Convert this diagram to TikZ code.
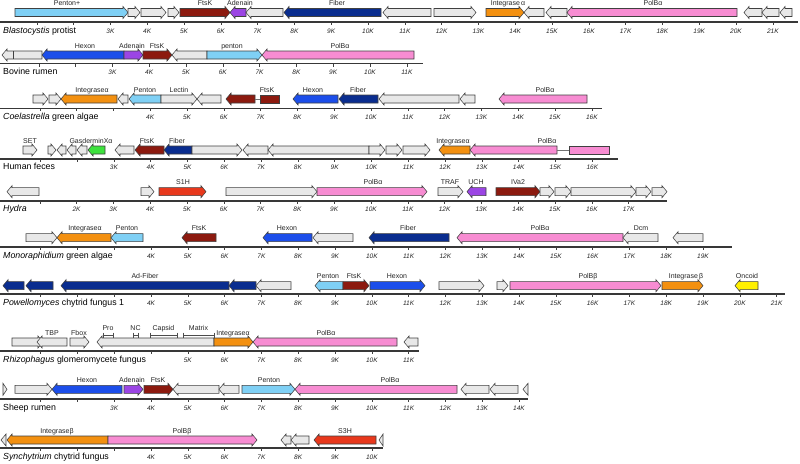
\documentclass[tikz,border=0pt]{standalone}
\usepackage{fontspec}
\setmainfont{Liberation Sans}
\definecolor{cGray}{HTML}{E8E8E8}
\definecolor{cPen}{HTML}{7FD0F5}
\definecolor{cFts}{HTML}{8C1A0F}
\definecolor{cAde}{HTML}{9B45E4}
\definecolor{cFib}{HTML}{0A2D8F}
\definecolor{cHex}{HTML}{1C4EEA}
\definecolor{cInt}{HTML}{F39010}
\definecolor{cPol}{HTML}{F78CD2}
\definecolor{cGas}{HTML}{3DE23D}
\definecolor{cRed}{HTML}{E8381C}
\definecolor{cYel}{HTML}{FFF000}
\tikzset{
 gene/.style={draw=black!75, line width=0.55pt, line join=miter},
 glabel/.style={font=\fontsize{7}{8}\selectfont, anchor=base, inner sep=0pt, text=black!85},
 ticklab/.style={font=\fontsize{6.5}{7}\selectfont\itshape, anchor=mid, inner sep=0pt, text=black!85},
 splab/.style={font=\fontsize{8.8}{10}\selectfont, anchor=mid west, inner sep=0pt},
 axisline/.style={draw=black!78, line width=1.4pt},
 tickmark/.style={draw=black!75, line width=0.6pt},
 joinline/.style={draw=black!55, line width=0.8pt},
 bracket/.style={draw=black!70, line width=0.5pt}
}
\newcommand{\RA}[4]{\pgfmathsetmacro{\hx}{max(#1,#2-5)}\draw[gene,fill=#4] (#1,#3-4) -- (\hx,#3-4) -- (\hx,#3-6) -- (#2,#3) -- (\hx,#3+6) -- (\hx,#3+4) -- (#1,#3+4) -- cycle;}
\newcommand{\LA}[4]{\pgfmathsetmacro{\hx}{min(#2,#1+5)}\draw[gene,fill=#4] (#2,#3-4) -- (\hx,#3-4) -- (\hx,#3-6) -- (#1,#3) -- (\hx,#3+6) -- (\hx,#3+4) -- (#2,#3+4) -- cycle;}
\newcommand{\BX}[4]{\draw[gene,fill=#4] (#1,#3-4) rectangle (#2,#3+4);}
\newcommand{\GL}[3]{\node[glabel] at (#1,#2-7) {#3};}
\newcommand{\AX}[6]{%
 \draw[axisline] (0,#2) -- (#3,#2);
 \foreach \k in {1,...,#4}{\draw[tickmark] ({#1+36.8*\k},#2) -- ++(0,3);}
 \foreach \k in {#5,...,#4}{\node[ticklab] at ({#1+36.8*\k},#6) {\k K};}
}
\newcommand{\BR}[4]{\draw[bracket] (#1,#3) -- (#2,#3) (#1,#3-2.5) -- (#1,#3+2.5) (#2,#3-2.5) -- (#2,#3+2.5); \node[glabel] at ({(#1+#2)/2},#3-5) {#4};}
\begin{document}
\begin{tikzpicture}[x=1pt,y=-1pt]
\useasboundingbox[fill=white] (0,0) rectangle (800,463);
% ---------- Row 1: Blastocystis ----------
\AX{0}{22}{798}{21}{3}{30.5}
\node[splab] at (3,30.5) {\textit{Blastocystis} protist};
\RA{15}{128}{12.5}{cPen}
\RA{128}{140}{12.5}{cGray}
\RA{141}{166}{12.5}{cGray}
\RA{168}{179}{12.5}{cGray}
\RA{180}{230}{12.5}{cFts}
\LA{230}{246}{12.5}{cAde}
\LA{246}{283}{12.5}{cGray}
\LA{284}{381}{12.5}{cFib}
\LA{383}{431}{12.5}{cGray}
\RA{434}{476}{12.5}{cGray}
\RA{486}{524}{12.5}{cInt}
\LA{524}{544}{12.5}{cGray}
\LA{546}{567}{12.5}{cGray}
\LA{567}{737}{12.5}{cPol}
\LA{744}{762}{12.5}{cGray}
\LA{762}{779}{12.5}{cGray}
\LA{780}{792}{12.5}{cGray}
\GL{67}{12.5}{Penton+}
\GL{205}{12.5}{FtsK}
\GL{240}{12.5}{Adenain}
\GL{337}{12.5}{Fiber}
\GL{508}{12.5}{Integrase\,α}
\GL{653}{12.5}{PolBα}
% ---------- Row 2: Bovine rumen ----------
\AX{2}{63.5}{423}{11}{3}{72}
\node[splab] at (3,72) {Bovine rumen};
\LA{2}{42}{55}{cGray}
\draw[gene] (13,51) -- (13,59);
\LA{42}{124}{55}{cHex}
\RA{124}{143}{55}{cAde}
\RA{143}{172}{55}{cFts}
\LA{172}{207}{55}{cGray}
\RA{207}{262}{55}{cPen}
\LA{262}{414}{55}{cPol}
\GL{85}{55}{Hexon}
\GL{132}{55}{Adenain}
\GL{157}{55}{FtsK}
\GL{232}{55}{penton}
\GL{340}{55}{PolBα}
% ---------- Row 3: Coelastrella ----------
\AX{3}{108.3}{602}{16}{4}{117}
\node[splab] at (3,117) {\textit{Coelastrella} green algae};
\RA{33}{48}{99}{cGray}
\RA{49}{61}{99}{cGray}
\LA{61}{117}{99}{cInt}
\LA{118}{128}{99}{cGray}
\LA{129}{161}{99}{cPen}
\RA{161}{197}{99}{cGray}
\LA{197}{221}{99}{cGray}
\LA{226}{255}{99}{cFts}
\draw[joinline] (255,99) -- (260,99);
\BX{260}{279}{99}{cFts}
\LA{293}{338}{99}{cHex}
\LA{339}{378}{99}{cFib}
\LA{379}{459}{99}{cGray}
\LA{460}{475}{99}{cGray}
\LA{499}{587}{99}{cPol}
\GL{92}{99}{Integraseα}
\GL{145}{99}{Penton}
\GL{179}{99}{Lectin}
\GL{267}{99}{FtsK}
\GL{313}{99}{Hexon}
\GL{358}{99}{Fiber}
\GL{545}{99}{PolBα}
% ---------- Row 4: Human feces ----------
\AX{3.5}{159}{618}{16}{3}{166.7}
\node[splab] at (3,166.7) {Human feces};
\RA{23}{37}{150}{cGray}
\RA{48}{56}{150}{cGray}
\LA{57}{66}{150}{cGray}
\LA{67}{76}{150}{cGray}
\LA{77}{87}{150}{cGray}
\LA{88}{105}{150}{cGas}
\LA{115}{134}{150}{cGray}
\LA{135}{164}{150}{cFts}
\LA{164}{192}{150}{cFib}
\RA{192}{242}{150}{cGray}
\LA{243}{268}{150}{cGray}
\LA{268}{369}{150}{cGray}
\RA{369}{385}{150}{cGray}
\RA{386}{402}{150}{cGray}
\RA{403}{430}{150}{cGray}
\LA{439}{470}{150}{cInt}
\LA{470}{557}{150}{cPol}
\draw[joinline] (557,150) -- (569,150);
\BX{569}{609}{150}{cPol}
\GL{30}{150}{SET}
\GL{91}{150}{GasderminXα}
\GL{147}{150}{FtsK}
\GL{177}{150}{Fiber}
\GL{453}{150}{Integraseα}
\GL{547}{150}{PolBα}
% ---------- Row 5: Hydra ----------
\AX{3}{201}{667}{17}{2}{209}
\node[splab] at (3,209) {\textit{Hydra}};
\LA{7}{39}{191.7}{cGray}
\RA{141}{154}{191.7}{cGray}
\RA{159}{206}{191.7}{cRed}
\RA{317}{427}{191.7}{cPol}
\RA{226}{317}{191.7}{cGray}
\RA{438}{463}{191.7}{cGray}
\LA{467}{486}{191.7}{cAde}
\RA{496}{540}{191.7}{cFts}
\RA{540}{554}{191.7}{cGray}
\RA{555}{571}{191.7}{cGray}
\RA{571}{636}{191.7}{cGray}
\RA{636}{651}{191.7}{cGray}
\RA{652}{667}{191.7}{cGray}
\GL{183}{191.7}{S1H}
\GL{373}{191.7}{PolBα}
\GL{450}{191.7}{TRAF}
\GL{476}{191.7}{UCH}
\GL{518}{191.7}{IVa2}
% ---------- Row 6: Monoraphidium ----------
\AX{3.8}{247}{732}{19}{4}{255.7}
\node[splab] at (3,255.7) {\textit{Monoraphidium} green algae};
\RA{26}{57}{237.7}{cGray}
\LA{57}{111}{237.7}{cInt}
\LA{111}{143}{237.7}{cPen}
\LA{182}{216}{237.7}{cFts}
\LA{263}{312}{237.7}{cHex}
\LA{313}{353}{237.7}{cGray}
\LA{369}{449}{237.7}{cFib}
\LA{457}{623}{237.7}{cPol}
\LA{623}{658}{237.7}{cGray}
\LA{673}{703}{237.7}{cGray}
\GL{85}{237.7}{Integraseα}
\GL{127}{237.7}{Penton}
\GL{199}{237.7}{FtsK}
\GL{287}{237.7}{Hexon}
\GL{408}{237.7}{Fiber}
\GL{540}{237.7}{PolBα}
\GL{641}{237.7}{Dcm}
% ---------- Row 7: Powellomyces ----------
\AX{3.8}{294}{785}{21}{4}{302.7}
\node[splab] at (3,302.7) {\textit{Powellomyces} chytrid fungus 1};
\LA{3}{24}{285.7}{cFib}
\LA{26}{53}{285.7}{cFib}
\LA{61}{229}{285.7}{cFib}
\LA{229}{256}{285.7}{cFib}
\LA{256}{291}{285.7}{cGray}
\LA{315}{343}{285.7}{cPen}
\RA{343}{369}{285.7}{cFts}
\RA{370}{425}{285.7}{cHex}
\RA{439}{484}{285.7}{cGray}
\RA{497}{508}{285.7}{cGray}
\RA{510}{661}{285.7}{cPol}
\RA{662}{703}{285.7}{cInt}
\LA{735}{758}{285.7}{cYel}
\GL{145}{285.7}{Ad-Fiber}
\GL{328}{285.7}{Penton}
\GL{354}{285.7}{FtsK}
\GL{397}{285.7}{Hexon}
\GL{588}{285.7}{PolBβ}
\GL{686}{285.7}{Integrase\,β}
\GL{747}{285.7}{Oncoid}
% ---------- Row 8: Rhizophagus ----------
\AX{3.8}{351}{419}{11}{5}{360}
\node[splab] at (3,360) {\textit{Rhizophagus} glomeromycete fungus};
\RA{12}{43}{342}{cGray}
\LA{37}{67}{342}{cGray}
\RA{70}{89}{342}{cGray}
\LA{97}{214}{342}{cGray}
\RA{214}{253}{342}{cInt}
\LA{253}{397}{342}{cPol}
\LA{404}{418}{342}{cGray}
\GL{52}{342}{TBP}
\GL{79}{342}{Fbox}
\BR{103}{113}{335}{Pro}
\BR{133}{138}{335}{NC}
\BR{150}{177}{335}{Capsid}
\BR{183}{214}{335}{Matrix}
\GL{233}{342}{Integraseα}
\GL{326}{342}{PolBα}
% ---------- Row 9: Sheep rumen ----------
\AX{3.8}{399}{528}{14}{3}{408}
\node[splab] at (3,408) {Sheep rumen};
\RA{3}{7}{389.3}{cGray}
\RA{15}{52}{389.3}{cGray}
\LA{52}{122}{389.3}{cHex}
\RA{124}{143}{389.3}{cAde}
\RA{144}{173}{389.3}{cFts}
\LA{173}{219}{389.3}{cGray}
\LA{219}{239}{389.3}{cGray}
\RA{242}{295}{389.3}{cPen}
\LA{295}{457}{389.3}{cPol}
\LA{461}{489}{389.3}{cGray}
\LA{490}{518}{389.3}{cGray}
\LA{523}{528}{389.3}{cGray}
\GL{87}{389.3}{Hexon}
\GL{132}{389.3}{Adenain}
\GL{158}{389.3}{FtsK}
\GL{269}{389.3}{Penton}
\GL{390}{389.3}{PolBα}
% ---------- Row 10: Synchytrium ----------
\AX{3.8}{448}{383}{10}{4}{457}
\node[splab] at (3,457) {\textit{Synchytrium} chytrid fungus};
\LA{1}{6}{440}{cGray}
\LA{7}{108}{440}{cInt}
\RA{108}{257}{440}{cPol}
\LA{281}{291}{440}{cGray}
\LA{291}{309}{440}{cGray}
\LA{314}{376}{440}{cRed}
\LA{379}{383}{440}{cGray}
\GL{57}{440}{Integraseβ}
\GL{182}{440}{PolBβ}
\GL{345}{440}{S3H}
\end{tikzpicture}
\end{document}
